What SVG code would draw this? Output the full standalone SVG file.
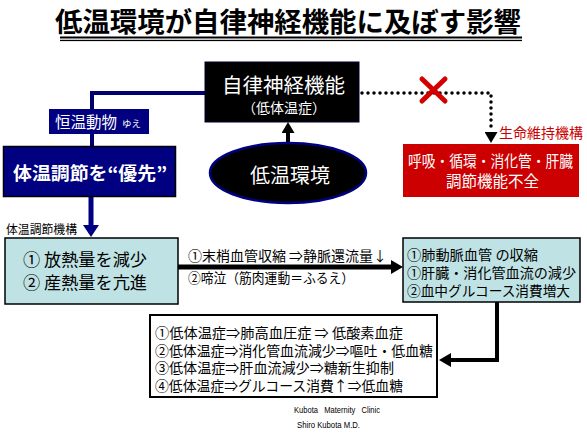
<svg xmlns="http://www.w3.org/2000/svg" width="587" height="433" viewBox="0 0 587 433">
<style>
.jp{font-family:"Noto Sans CJK JP","Noto Sans CJK SC",sans-serif}
.w{fill:#ffffff}
.k{fill:#000000}
.lb{fill:#bfe2e4;stroke:#000000;stroke-width:1.5}
.navy{fill:#000080}
.line{fill:none;stroke-linejoin:miter}
</style>
<defs>
<marker id="ahNavy" markerUnits="userSpaceOnUse" viewBox="0 0 12 16" markerWidth="12" markerHeight="16" refX="0" refY="8" orient="auto"><path d="M0,0 L12,8 L0,16 z" fill="#000080"/></marker>
<marker id="ahBlack" markerUnits="userSpaceOnUse" viewBox="0 0 11 13" markerWidth="11" markerHeight="13" refX="0" refY="6.5" orient="auto"><path d="M0,0 L11,6.5 L0,13 z" fill="#000000"/></marker>
<marker id="ahBig" markerUnits="userSpaceOnUse" viewBox="0 0 12 14" markerWidth="12" markerHeight="14" refX="0" refY="7" orient="auto"><path d="M0,0 L12,7 L0,14 z" fill="#000000"/></marker>
</defs>
<rect width="587" height="433" fill="#ffffff"/>

<g id="title">
<text class="jp k" x="55" y="32" font-size="27" font-weight="bold" textLength="466" lengthAdjust="spacingAndGlyphs">低温環境が自律神経機能に及ぼす影響</text>
<rect x="60" y="36.5" width="462" height="2" fill="#000"/>
<rect x="60" y="39.8" width="462" height="1.3" fill="#000"/>
</g>

<g id="connectors">
<path class="line" d="M205,93 H92 V146" stroke="#000070" stroke-width="4"/>
<path class="line" d="M91,197 V225" stroke="#000080" stroke-width="5" marker-end="url(#ahNavy)"/>
<path class="line" d="M288,143 V133" stroke="#000" stroke-width="4" marker-end="url(#ahBlack)"/>
<path class="line" d="M362,93 H491 V132" stroke="#000" stroke-width="3.5" stroke-linecap="round" stroke-dasharray="0 6" marker-end="url(#ahBlack)"/>
<path class="line" d="M178,267 H391" stroke="#000" stroke-width="5" marker-end="url(#ahBig)"/>
<path class="line" d="M497,302 V360 H451" stroke="#000" stroke-width="4" marker-end="url(#ahBig)"/>
</g>

<g id="x-mark" stroke="#d40000" stroke-width="5" stroke-linecap="round">
<line x1="422" y1="79" x2="445" y2="101"/>
<line x1="445" y1="79" x2="422" y2="101"/>
</g>

<g id="autonomic">
<rect x="205" y="62" width="154" height="60" fill="#000" stroke="#000030" stroke-width="1"/>
<text class="jp w" x="222" y="93" font-size="20.5" textLength="123" lengthAdjust="spacingAndGlyphs">自律神経機能</text>
<text class="jp w" x="284" y="113" font-size="14" text-anchor="middle">（低体温症）</text>
</g>

<g id="homeotherm">
<rect x="49" y="109" width="100" height="25" class="navy"/>
<text class="jp w" x="55" y="127.5" font-size="15.5" textLength="62" lengthAdjust="spacingAndGlyphs">恒温動物</text>
<text class="jp w" x="122" y="127" font-size="9.5">ゆえ</text>
</g>

<g id="priority">
<rect x="3.5" y="146.5" width="172" height="50" class="navy" stroke="#000" stroke-width="1.5"/>
<text class="jp w" x="90" y="180" font-size="18" font-weight="bold" text-anchor="middle" textLength="154" lengthAdjust="spacingAndGlyphs">体温調節を“優先”</text>
</g>

<g id="cold-env">
<ellipse cx="288" cy="173" rx="78" ry="30" fill="#000" stroke="#000080" stroke-width="2.5"/>
<text class="jp w" x="250" y="183" font-size="20" textLength="80" lengthAdjust="spacingAndGlyphs">低温環境</text>
</g>

<g id="life-support">
<text class="jp" x="499" y="137.5" font-size="14" fill="#cc0000" textLength="84" lengthAdjust="spacingAndGlyphs">生命維持機構</text>
<rect x="403" y="144" width="176" height="53" fill="#cc0000"/>
<text class="jp w" x="408" y="167" font-size="15.5" textLength="165" lengthAdjust="spacingAndGlyphs">呼吸・循環・消化管・肝臓</text>
<text class="jp w" x="446" y="187" font-size="15.5" textLength="93" lengthAdjust="spacingAndGlyphs">調節機能不全</text>
</g>

<g id="thermoreg">
<text class="jp k" x="6" y="233.5" font-size="12" textLength="71" lengthAdjust="spacingAndGlyphs">体温調節機構</text>
<rect x="5" y="238" width="173" height="66" class="lb"/>
<text class="jp k" x="23" y="266" font-size="17.5" textLength="124" lengthAdjust="spacingAndGlyphs">① 放熱量を減少</text>
<text class="jp k" x="23" y="289" font-size="17.5" textLength="124" lengthAdjust="spacingAndGlyphs">② 産熱量を亢進</text>
</g>

<g id="arrow-labels">
<text class="jp k" x="188" y="261" font-size="13.8" textLength="199" lengthAdjust="spacingAndGlyphs">①末梢血管収縮 ⇒静脈還流量↓</text>
<text class="jp k" x="188" y="283" font-size="13.5" textLength="166" lengthAdjust="spacingAndGlyphs">②啼泣（筋肉運動＝ふるえ）</text>
</g>

<g id="circulation">
<rect x="403" y="238" width="177" height="64" class="lb"/>
<text class="jp k" x="407" y="259.5" font-size="14" textLength="131" lengthAdjust="spacingAndGlyphs">①肺動脈血管 の収縮</text>
<text class="jp k" x="407" y="277.5" font-size="14" textLength="169" lengthAdjust="spacingAndGlyphs">①肝臓・消化管血流の減少</text>
<text class="jp k" x="407" y="295.5" font-size="14" textLength="163" lengthAdjust="spacingAndGlyphs">②血中グルコース消費増大</text>
</g>

<g id="effects">
<rect x="150" y="315" width="287" height="82" fill="#fff" stroke="#000" stroke-width="2"/>
<text class="jp k" x="155" y="338" font-size="14.2" textLength="248" lengthAdjust="spacingAndGlyphs">①低体温症⇒肺高血圧症 ⇒ 低酸素血症</text>
<text class="jp k" x="155" y="355.7" font-size="14.2" textLength="278" lengthAdjust="spacingAndGlyphs">②低体温症⇒消化管血流減少⇒嘔吐・低血糖</text>
<text class="jp k" x="155" y="373.4" font-size="14.2" textLength="239" lengthAdjust="spacingAndGlyphs">③低体温症⇒肝血流減少⇒糖新生抑制</text>
<text class="jp k" x="155" y="391" font-size="14.2" textLength="248" lengthAdjust="spacingAndGlyphs">④低体温症⇒グルコース消費↑⇒低血糖</text>
</g>

<g id="credit" font-family="'Liberation Sans',Arial,sans-serif" font-size="9.5" fill="#000">
<text x="294" y="412.5" textLength="86" lengthAdjust="spacingAndGlyphs" xml:space="preserve">Kubota   Maternity   Clinic</text>
<text x="297" y="427.5" textLength="63" lengthAdjust="spacingAndGlyphs">Shiro Kubota M.D.</text>
</g>
</svg>
